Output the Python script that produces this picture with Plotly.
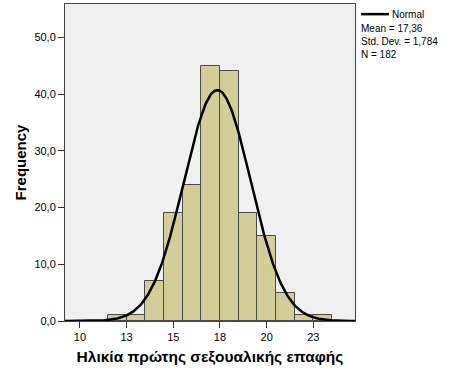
import numpy as np
import plotly.graph_objects as go

# Data
bin_centers = [12, 13, 14, 15, 16, 17, 18, 19, 20, 21, 22, 23]
frequencies = [1, 1, 7, 19, 24, 45, 44, 19, 15, 5, 1, 1]
mean_val = 17.36
std_val = 1.784
n_val = 182
x_tick_vals = [10, 12.5, 15, 17.5, 20, 22.5]
x_tick_text = ["10", "13", "15", "18", "20", "23"]
y_tick_vals = [0, 10, 20, 30, 40, 50]
y_tick_text = ["0,0", "10,0", "20,0", "30,0", "40,0", "50,0"]

xs = np.linspace(9.2, 24.73, 400)
ys = n_val * 1.0 / (std_val * np.sqrt(2 * np.pi)) * np.exp(-0.5 * ((xs - mean_val) / std_val) ** 2)

fig = go.Figure()
fig.add_trace(go.Bar(
    x=bin_centers, y=frequencies, width=1,
    marker=dict(color="#D3CE98", line=dict(color="#4a4a4a", width=1)),
    showlegend=False, hoverinfo="x+y"))
fig.add_trace(go.Scatter(
    x=xs, y=ys, mode="lines", line=dict(color="black", width=2.5),
    showlegend=False, hoverinfo="skip"))

fig.update_layout(
    width=475, height=380,
    margin=dict(l=65, r=120, t=4, b=59, autoexpand=False),
    paper_bgcolor="white", plot_bgcolor="#F0F0F0",
    font=dict(family="Liberation Sans, Arial, sans-serif", size=11, color="black"),
    bargap=0,
    xaxis=dict(range=[9.2, 24.73], tickvals=x_tick_vals, ticktext=x_tick_text,
               showgrid=False, zeroline=False, showline=True, mirror=True,
               linecolor="#444444", linewidth=1, ticks="outside", ticklen=6,
               tickcolor="#333333", automargin=False,
               title=dict(text="<b>Ηλικία πρώτης σεξουαλικής επαφής</b>",
                          font=dict(size=15.5), standoff=8)),
    yaxis=dict(range=[0, 55.87], tickvals=y_tick_vals, ticktext=y_tick_text,
               showgrid=False, zeroline=False, showline=True, mirror=True,
               linecolor="#444444", linewidth=1, ticks="outside", ticklen=6,
               tickcolor="#333333", automargin=False,
               title=dict(text="<b>Frequency</b>", font=dict(size=15), standoff=4)),
)

# Legend-like annotations on right
fig.add_shape(type="line", xref="paper", yref="paper",
              x0=1.021, x1=1.117, y0=0.968, y1=0.968,
              line=dict(color="black", width=2.5))
fig.add_annotation(xref="paper", yref="paper", x=1.122, y=0.968, text="Normal",
                   showarrow=False, xanchor="left", yanchor="middle",
                   font=dict(size=10))
fig.add_annotation(xref="paper", yref="paper", x=1.015, y=0.945,
                   text="Mean = 17,36<br>Std. Dev. = 1,784<br>N = 182",
                   showarrow=False, xanchor="left", yanchor="top", align="left",
                   font=dict(size=10))

fig.write_html("out.html", config={"displayModeBar": False},
               post_script="document.body.style.margin='0';document.body.style.padding='0';")
